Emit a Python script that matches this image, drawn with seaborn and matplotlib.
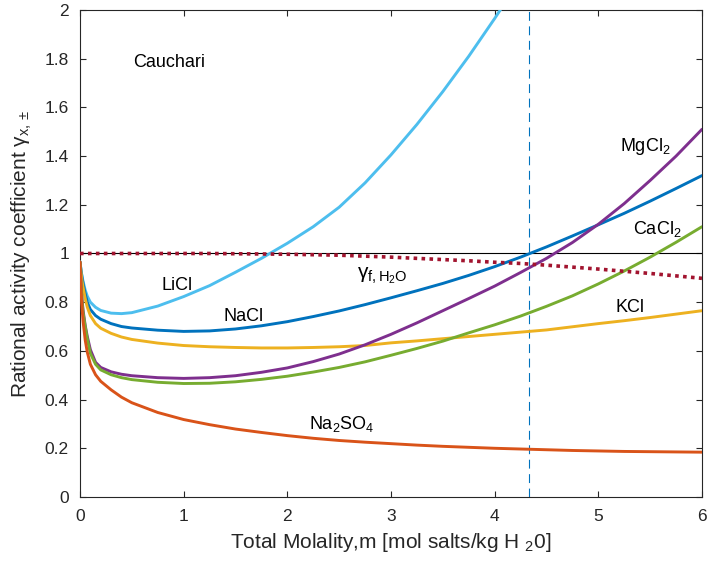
import matplotlib
matplotlib.use("Agg")
import matplotlib.pyplot as plt
import matplotlib.ticker as mticker
import seaborn as sns
import pandas as pd

# ---- data ----
molality = [0, 0.01, 0.02, 0.03, 0.05, 0.07, 0.1, 0.15, 0.2, 0.3, 0.4, 0.5, 0.75,
            1.0, 1.25, 1.5, 1.75, 2.0, 2.25, 2.5, 2.75, 3.0, 3.25, 3.5, 3.75,
            4.0, 4.25, 4.5, 4.75, 5.0, 5.25, 5.5, 5.75, 6.0]
licl_m = [0, 0.01, 0.02, 0.03, 0.05, 0.07, 0.1, 0.15, 0.2, 0.3, 0.4, 0.5, 0.75,
          1.0, 1.25, 1.5, 1.75, 2.0, 2.25, 2.5, 2.75, 3.0, 3.25, 3.5, 3.75,
          4.0, 4.1]
licl = [0.965, 0.93, 0.905, 0.885, 0.85, 0.825, 0.80, 0.779, 0.766, 0.755, 0.753,
        0.757, 0.784, 0.823, 0.868, 0.923, 0.98, 1.042, 1.11, 1.19, 1.29, 1.405,
        1.53, 1.665, 1.81, 1.965, 2.03]
nacl = [0.965, 0.93, 0.90, 0.875, 0.835, 0.80, 0.77, 0.745, 0.73, 0.712, 0.70,
        0.694, 0.685, 0.68, 0.682, 0.69, 0.703, 0.72, 0.741, 0.764, 0.79, 0.818,
        0.847, 0.877, 0.91, 0.946, 0.985, 1.027, 1.072, 1.118, 1.165, 1.215,
        1.267, 1.32]
kcl = [0.965, 0.92, 0.885, 0.86, 0.815, 0.78, 0.745, 0.712, 0.693, 0.672, 0.657,
       0.647, 0.632, 0.622, 0.617, 0.614, 0.612, 0.612, 0.614, 0.617, 0.622,
       0.633, 0.641, 0.65, 0.659, 0.668, 0.677, 0.686, 0.699, 0.712, 0.724,
       0.737, 0.751, 0.765]
mgcl2 = [0.965, 0.87, 0.81, 0.765, 0.705, 0.66, 0.605, 0.553, 0.532, 0.514,
         0.504, 0.498, 0.49, 0.487, 0.49, 0.498, 0.512, 0.53, 0.556, 0.587,
         0.625, 0.668, 0.715, 0.765, 0.815, 0.866, 0.922, 0.98, 1.045, 1.12,
         1.205, 1.30, 1.40, 1.51]
cacl2 = [0.965, 0.87, 0.80, 0.755, 0.70, 0.65, 0.59, 0.545, 0.522, 0.502, 0.49,
         0.482, 0.471, 0.466, 0.467, 0.473, 0.483, 0.496, 0.513, 0.532, 0.555,
         0.582, 0.61, 0.64, 0.674, 0.707, 0.743, 0.783, 0.826, 0.875, 0.928,
         0.985, 1.046, 1.11]
na2so4 = [0.965, 0.85, 0.775, 0.72, 0.645, 0.595, 0.545, 0.502, 0.475, 0.44,
          0.41, 0.387, 0.347, 0.318, 0.297, 0.279, 0.265, 0.252, 0.241, 0.232,
          0.225, 0.219, 0.213, 0.208, 0.204, 0.2, 0.197, 0.194, 0.191, 0.189,
          0.187, 0.186, 0.185, 0.184]
water = [1.0, 1.0, 1.0, 1.0, 1.0, 1.0, 1.0, 1.0, 1.0, 1.0, 1.0, 1.0, 1.0,
         1.0, 1.0, 0.999, 0.998, 0.997, 0.995, 0.993, 0.989, 0.985, 0.98, 0.975,
         0.97, 0.964, 0.959, 0.952, 0.944, 0.936, 0.927, 0.918, 0.908, 0.898]
eutonic_m = 4.33
salts = ["LiCl", "NaCl", "KCl", "MgCl2", "CaCl2", "Na2SO4"]
colors = ["#4DBEEE", "#0072BD", "#EDB120", "#7E2F8E", "#77AC30", "#D95319"]

rows = []
for m, v in zip(licl_m, licl):
    rows.append(("LiCl", m, v))
for name, vals in zip(salts[1:], [nacl, kcl, mgcl2, cacl2, na2so4]):
    for m, v in zip(molality, vals):
        rows.append((name, m, v))
df = pd.DataFrame(rows, columns=["salt", "m", "gamma"])
dfw = pd.DataFrame({"m": molality, "gamma": water})

sns.set_style("ticks")
plt.rcParams["font.family"] = ["Liberation Sans", "DejaVu Sans"]
plt.rcParams["mathtext.default"] = "regular"
plt.rcParams["mathtext.fontset"] = "custom"
plt.rcParams["mathtext.rm"] = "Liberation Sans"
plt.rcParams["mathtext.it"] = "Liberation Sans:italic"
txt = "#262626"

fig = plt.figure(figsize=(7.08, 5.65), dpi=100)
ax = fig.add_axes([0.113, 0.1204, 0.8785, 0.8619])

ax.axhline(1.0, color="black", lw=0.8, zorder=1)
ax.axvline(eutonic_m, color="#0072BD", lw=0.8, ls=(0, (8, 5)), zorder=1)

sns.lineplot(data=df, x="m", y="gamma", hue="salt", hue_order=salts,
             palette=colors, lw=2.1, sort=False, legend=False, ax=ax, zorder=3)
sns.lineplot(data=dfw, x="m", y="gamma", color="#A2142F", lw=2.6,
             ls=(0, (1, 1.2)), legend=False, ax=ax, zorder=4)

ax.set_xlim(0, 6)
ax.set_ylim(0, 2)
ax.xaxis.set_major_locator(mticker.MultipleLocator(1))
ax.yaxis.set_major_locator(mticker.MultipleLocator(0.2))
ax.yaxis.set_major_formatter(mticker.FuncFormatter(lambda v, p: f"{v:g}"))
ax.tick_params(direction="in", top=True, right=True, length=4.5, width=0.8,
               labelsize=12.5, colors=txt)
ax.tick_params(axis="x", pad=9)
ax.tick_params(axis="y", pad=8)
for s in ax.spines.values():
    s.set_color(txt)
    s.set_linewidth(0.8)

ax.set_xlabel("Total Molality,m [mol salts/kg H $_2$0]", fontsize=15,
              color=txt, labelpad=5)
ax.set_ylabel(r"Rational activity coefficient $\gamma_{x,\pm}$", fontsize=15,
              color=txt, labelpad=8)

fs = 13
ax.text(0.51, 1.786, "Cauchari", fontsize=fs, color="black", va="center")
ax.text(0.79, 0.87, "LiCl", fontsize=fs, color="black", va="center")
ax.text(1.38, 0.743, "NaCl", fontsize=fs, color="black", va="center")
ax.text(2.21, 0.30, "Na$_2$SO$_4$", fontsize=fs, color="black", va="center")
ax.text(5.17, 0.78, "KCl", fontsize=fs, color="black", va="center")
ax.text(5.33, 1.10, "CaCl$_2$", fontsize=fs, color="black", va="center")
ax.text(5.21, 1.44, "MgCl$_2$", fontsize=fs, color="black", va="center")
ax.text(2.67, 0.91, r"$\gamma_{f,H_2O}$", fontsize=fs + 2, color="black",
        va="center")

fig.savefig("out.png", dpi=100)
